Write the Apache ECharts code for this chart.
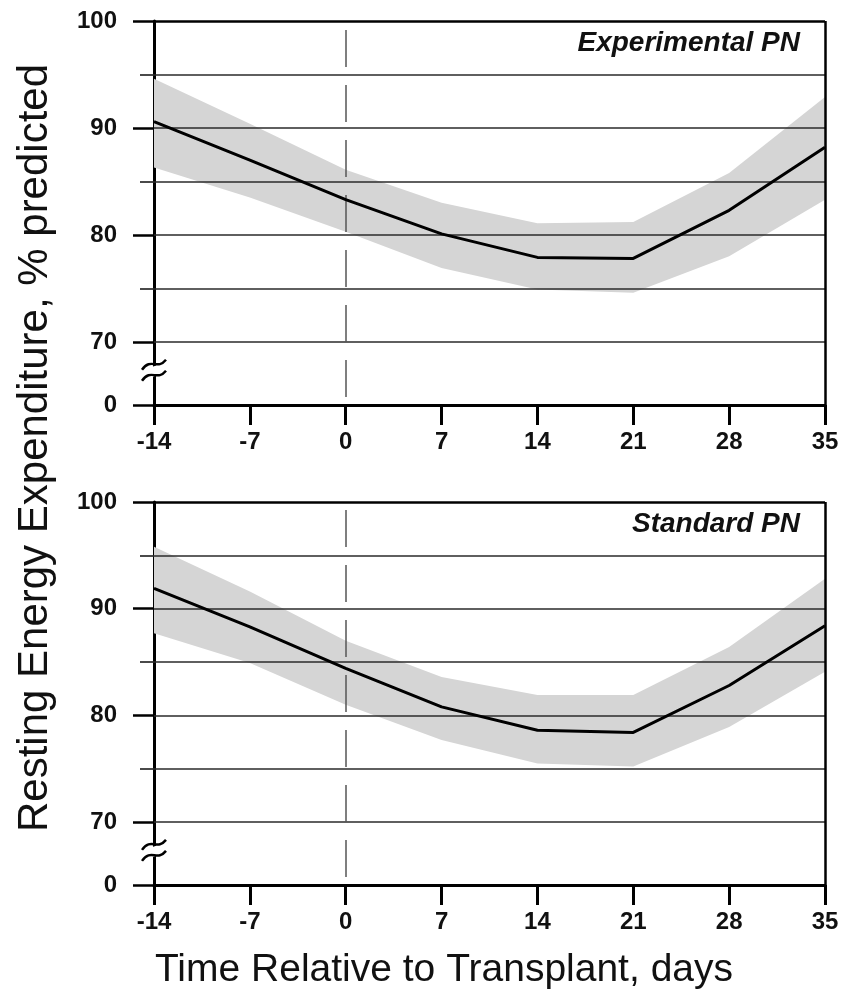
<!DOCTYPE html>
<html>
<head>
<meta charset="utf-8">
<script src="https://cdn.jsdelivr.net/npm/echarts@6/dist/echarts.min.js"></script>
<style>
html,body{margin:0;padding:0;background:#fff;}
#chart{width:844px;height:1005px;}
</style>
</head>
<body>
<div id="chart"></div>
<script>
// ---- data ----
const days = [-14, -7, 0, 7, 14, 21, 28, 35];
const xTicks = [-14, -7, 0, 7, 14, 21, 28, 35];
const expMean  = [90.6, 87.0, 83.3, 80.1, 77.9, 77.8, 82.3, 88.2];
const expUpper = [94.6, 90.4, 86.1, 83.0, 81.1, 81.2, 85.8, 92.9];
const expLower = [86.3, 83.5, 80.3, 76.9, 74.9, 74.6, 78.0, 83.3];
const stdMean  = [91.9, 88.3, 84.4, 80.8, 78.6, 78.4, 82.8, 88.4];
const stdUpper = [95.8, 91.6, 87.0, 83.6, 81.9, 81.9, 86.4, 92.8];
const stdLower = [87.7, 84.9, 81.0, 77.7, 75.5, 75.2, 78.9, 84.1];
const yTickLabels = [0, 70, 80, 90, 100];
const yMinorTicks = [75, 85, 95];
const gridValues = [70, 75, 80, 85, 90, 95];
const panelNames = ['Experimental PN', 'Standard PN'];
const yTitle = 'Resting Energy Expenditure, % predicted';
const xTitle = 'Time Relative to Transplant, days';

// axis break: value 0 is shown just below 70
const BREAK_POS = 64.1;
const toAxis = v => (v === 0 ? BREAK_POS : v);

const FONT = "'Liberation Sans', Arial, Helvetica, sans-serif";
const chart = echarts.init(document.getElementById('chart'), null, {renderer: 'canvas'});

const grids = [
  {left: 154, right: 19, top: 21, height: 384},
  {left: 154, right: 19, top: 502, height: 383}
];

const panels = [
  {mean: expMean, upper: expUpper, lower: expLower},
  {mean: stdMean, upper: stdUpper, lower: stdLower}
];

const xAxes = [], yAxes = [], series = [];
panels.forEach((p, gi) => {
  xAxes.push({
    type: 'value', gridIndex: gi, min: -14, max: 35, interval: 7,
    axisLine: {show: true, onZero: false, lineStyle: {color: '#000', width: 3}},
    axisTick: {show: true, length: 20, lineStyle: {color: '#000', width: 3}},
    axisLabel: {show: true, margin: 25, color: '#111', fontFamily: FONT, fontWeight: 'bold', fontSize: 24,
      customValues: xTicks},
    splitLine: {show: false}
  });
  // main left axis
  yAxes.push({
    type: 'value', gridIndex: gi, min: BREAK_POS, max: 100,
    axisLine: {show: true, onZero: false, lineStyle: {color: '#000', width: 3}},
    axisTick: {show: true, length: 21, customValues: yTickLabels.map(toAxis), lineStyle: {color: '#000', width: 2.5}},
    axisLabel: {show: true, margin: 37, color: '#111', fontFamily: FONT, fontWeight: 'bold', fontSize: 24,
      customValues: yTickLabels.map(toAxis),
      formatter: v => (Math.abs(v - BREAK_POS) < 0.01 ? '0' : String(Math.round(v)))},
    splitLine: {show: false}
  });
  // minor ticks axis
  yAxes.push({
    type: 'value', gridIndex: gi, min: BREAK_POS, max: 100, position: 'left',
    axisLine: {show: false, onZero: false},
    axisTick: {show: true, length: 14, customValues: yMinorTicks, lineStyle: {color: '#2a2a2a', width: 1.7}},
    axisLabel: {show: false},
    splitLine: {show: false}
  });
  const yIdx = gi * 2;
  const pts = arr => days.map((d, i) => [d, arr[i]]);
  // confidence band as polygon through the axes
  series.push({
    type: 'custom', xAxisIndex: gi, yAxisIndex: yIdx, z: 1, silent: true, clip: true,
    data: days.map((d, i) => [d, p.lower[i], p.upper[i]]),
    encode: {x: 0, y: [1, 2]},
    renderItem: (params, api) => {
      if (params.dataIndex !== 0) return null;
      const upperPts = days.map((d, i) => api.coord([d, p.upper[i]]));
      const lowerPts = days.map((d, i) => api.coord([d, p.lower[i]])).reverse();
      return {
        type: 'polygon',
        shape: {points: upperPts.concat(lowerPts)},
        style: {fill: '#d5d5d5', stroke: null}
      };
    }
  });
  // gridlines & borders
  series.push({
    type: 'line', xAxisIndex: gi, yAxisIndex: yIdx, z: 3,
    data: pts(p.mean), symbol: 'none', lineStyle: {opacity: 0}, silent: true,
    markLine: {
      silent: true, symbol: 'none', label: {show: false}, animation: false,
      lineStyle: {color: '#2a2a2a', width: 1.7, type: 'solid'},
      data: gridValues.map(v => ({yAxis: v}))
        .concat([
          {yAxis: 100, lineStyle: {color: '#000', width: 2.5}},
          {xAxis: 35, lineStyle: {color: '#000', width: 2.5}},
          {xAxis: 0, lineStyle: {color: '#555', width: 1.5, type: [37, 18], dashOffset: 47}}
        ])
    }
  });
  // mean line
  series.push({
    type: 'line', xAxisIndex: gi, yAxisIndex: yIdx, z: 5,
    data: pts(p.mean), symbol: 'none',
    lineStyle: {color: '#000', width: 3}, silent: true
  });
});

chart.setOption({
  animation: false,
  backgroundColor: '#fff',
  grid: grids,
  xAxis: xAxes,
  yAxis: yAxes,
  title: [
    {text: panelNames[0], right: 39, top: 24,
      textStyle: {fontFamily: FONT, fontStyle: 'italic', fontWeight: 'bold', fontSize: 28, color: '#111'}},
    {text: panelNames[1], right: 39, top: 505,
      textStyle: {fontFamily: FONT, fontStyle: 'italic', fontWeight: 'bold', fontSize: 28, color: '#111'}}
  ],
  series: series
});

// axis titles and break symbols
const graphics = [
  {type: 'text', x: 444, y: 970,
    style: {text: xTitle, font: '39px ' + FONT, fill: '#111', align: 'center', verticalAlign: 'middle'}},
  {type: 'text', x: 35, y: 448, rotation: Math.PI / 2,
    style: {text: yTitle, font: '42px ' + FONT, fill: '#111', align: 'center', verticalAlign: 'middle'}}
];
[0, 1].forEach(gi => {
  const c = chart.convertToPixel({xAxisIndex: gi, yAxisIndex: gi * 2}, [-14, (70 + BREAK_POS) / 2 + 0.2]);
  const x = c[0], y = c[1];
  graphics.push({type: 'polygon', shape: {points: [[x - 6, y - 3], [x + 6, y - 7], [x + 6, y + 3], [x - 6, y + 7]]}, style: {fill: '#fff'}, z: 100});
  [-5.5, 5.5].forEach(dy => {
    graphics.push({type: 'bezierCurve', z: 101,
      shape: {x1: x - 12, y1: y + dy + 4, cpx1: x - 3, cpy1: y + dy - 9, cpx2: x + 3, cpy2: y + dy + 5, x2: x + 12, y2: y + dy - 6},
      style: {stroke: '#000', lineWidth: 2.5, fill: null}});
  });
});
chart.setOption({graphic: graphics});
</script>
</body>
</html>
